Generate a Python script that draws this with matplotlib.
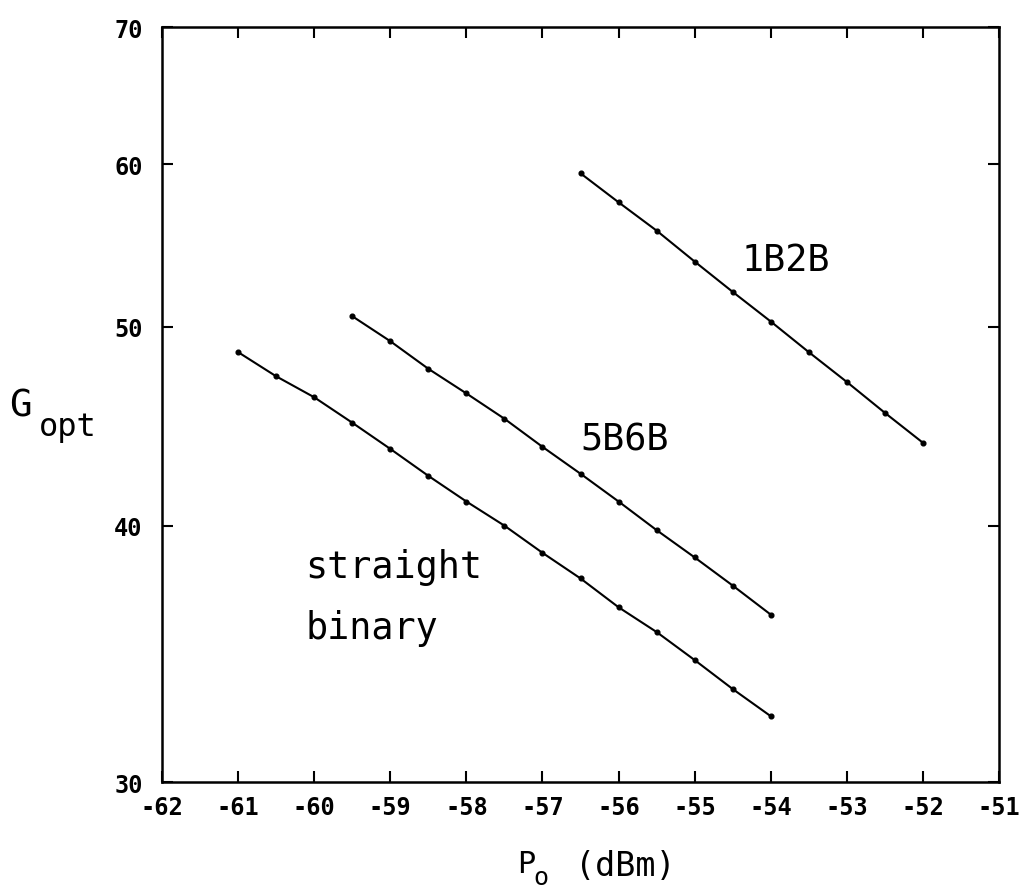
import matplotlib
matplotlib.use("Agg")
import matplotlib.pyplot as plt
from matplotlib.ticker import FixedLocator, NullLocator, FixedFormatter

# Data (P0 in dBm, G_opt)
p_straight = [-61, -60.5, -60, -59.5, -59, -58.5, -58, -57.5, -57, -56.5, -56, -55.5, -55, -54.5, -54]
g_straight = [48.6, 47.3, 46.2, 44.9, 43.6, 42.3, 41.1, 40.0, 38.8, 37.7, 36.5, 35.5, 34.4, 33.3, 32.3]

p_5b6b = [-59.5, -59, -58.5, -58, -57.5, -57, -56.5, -56, -55.5, -55, -54.5, -54]
g_5b6b = [50.6, 49.2, 47.7, 46.4, 45.1, 43.7, 42.4, 41.1, 39.8, 38.6, 37.4, 36.2]

p_1b2b = [-56.5, -56, -55.5, -55, -54.5, -54, -53.5, -53, -52.5, -52]
g_1b2b = [59.4, 57.5, 55.7, 53.8, 52.0, 50.3, 48.6, 47.0, 45.4, 43.9]

x_ticks = [-62, -61, -60, -59, -58, -57, -56, -55, -54, -53, -52, -51]
y_ticks = [30, 40, 50, 60, 70]

MONO = "DejaVu Sans Mono"

fig = plt.figure(figsize=(10.21, 8.95), dpi=100)
ax = fig.add_axes([0.1587, 0.1251, 0.8198, 0.8436])

for p, g in [(p_straight, g_straight), (p_5b6b, g_5b6b), (p_1b2b, g_1b2b)]:
    ax.plot(p, g, color="black", lw=1.5, marker="o", ms=3.4)

ax.set_yscale("log")
ax.set_xlim(-62, -51)
ax.set_ylim(30, 70)
ax.xaxis.set_major_locator(FixedLocator(x_ticks))
ax.xaxis.set_major_formatter(FixedFormatter([str(t) for t in x_ticks]))
ax.yaxis.set_major_locator(FixedLocator(y_ticks))
ax.yaxis.set_minor_locator(NullLocator())
ax.yaxis.set_major_formatter(FixedFormatter([str(t) for t in y_ticks]))

ax.tick_params(axis="both", which="major", direction="in", length=8, width=1.5,
               top=True, right=True, labelsize=17)
ax.tick_params(axis="x", pad=9)
ax.tick_params(axis="y", pad=14)
for lab in ax.get_xticklabels() + ax.get_yticklabels():
    lab.set_fontweight("bold")
    lab.set_family(MONO)
for s in ax.spines.values():
    s.set_linewidth(1.8)

ax.text(-54.38, 53.9, "1B2B", fontsize=26.5, family=MONO, va="center", ha="left")
ax.text(-56.5, 44.1, "5B6B", fontsize=26.5, family=MONO, va="center", ha="left")
ax.text(-60.12, 38.2, "straight", fontsize=26.5, family=MONO, va="center", ha="left")
ax.text(-60.12, 35.7, "binary", fontsize=26.5, family=MONO, va="center", ha="left")

# y label: G with subscript opt
fig.text(0.009, 0.566, "G", fontsize=27, family=MONO, va="top", ha="left")
fig.text(0.038, 0.522, "opt", fontsize=23, family=MONO, va="center", ha="left")

# x label: P with subscript o, then (dBm)
fig.text(0.506, 0.050, "P", fontsize=22, family=MONO, va="top", ha="left")
fig.text(0.522, 0.019, "o", fontsize=18, family=MONO, va="center", ha="left")
fig.text(0.563, 0.050, "(dBm)", fontsize=24, family=MONO, va="top", ha="left")

fig.savefig("out.png", dpi=100)
